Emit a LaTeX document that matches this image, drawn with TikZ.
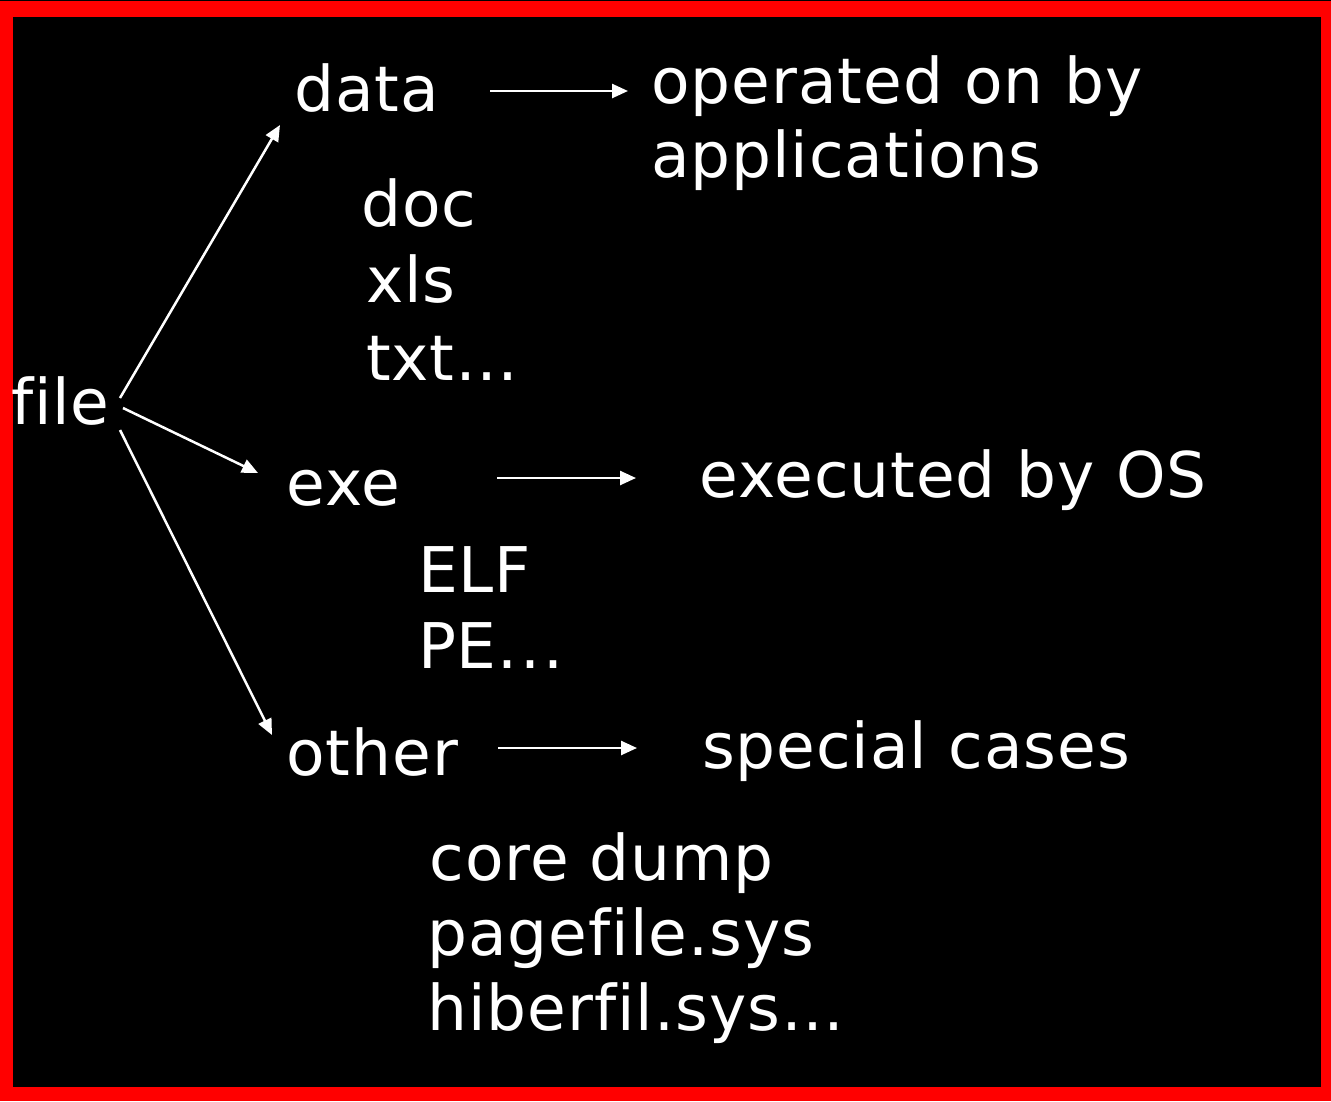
\documentclass[tikz,border=0pt]{standalone}
\usepackage{fontspec}
\setmainfont{DejaVu Sans}[Ligatures={NoCommon},LetterSpace=1.5]
\usetikzlibrary{arrows.meta,calc}
\tikzset{
  lbl/.style={anchor=base west, inner sep=0pt, outer sep=0pt, text=white, font=\fontsize{63}{75}\selectfont},
  arr/.style={draw=white, line width=2.5pt, -{Triangle[length=16pt,width=14pt]}}
}
\begin{document}
\begin{tikzpicture}[x=1pt,y=-1pt]
\useasboundingbox (0,0) rectangle (1331,1101);
\fill[red] (0,0) rectangle (1331,1101);
\fill[black] (0,0) rectangle (1331,1);
\fill[black] (13,17) rectangle (1321,1087);

\node[lbl] (file) at (11,424) {file};
\node[lbl] (data) at (294.5,111) {data};
\node[lbl] (op1) at (651.5,103) {operated on by};
\node[lbl] (op2) at (651,177) {applications};
\node[lbl] (doc) at (361.5,226) {doc};
\node[lbl] (xls) at (366,302) {xls};
\node[lbl] (txt) at (366,380) {txt…};
\node[lbl] (exe) at (286.5,505) {exe};
\node[lbl] (exec) at (699.5,497) {executed by OS};
\node[lbl] (elf) at (418,592) {ELF};
\node[lbl] (pe) at (418,668) {PE.\kern3pt.\kern3pt.};
\node[lbl] (other) at (286.5,775) {other};
\node[lbl] (spec) at (702,768) {special cases};
\node[lbl] (core) at (429.5,880) {core dump};
\node[lbl] (page) at (427.5,955) {pagefile.sys};
\node[lbl] (hiber) at (427.5,1030) {hiberfil.sys…};

\draw[arr] ($(file.base west)+(109,-26)$) -- ($(data.base west)+(-14.5,14)$);
\draw[arr] ($(file.base west)+(112,-16)$) -- ($(exe.base west)+(-28.5,-32)$);
\draw[arr] ($(file.base west)+(109,6)$) -- ($(other.base west)+(-14.5,-40)$);
\draw[arr] ($(data.base west)+(195.5,-20)$) -- ($(op1.base west)+(-23.5,-12)$);
\draw[arr] ($(exe.base west)+(210.5,-27)$) -- ($(exec.base west)+(-63.5,-19)$);
\draw[arr] ($(other.base west)+(211.5,-27)$) -- ($(spec.base west)+(-65,-20)$);
\end{tikzpicture}
\end{document}
